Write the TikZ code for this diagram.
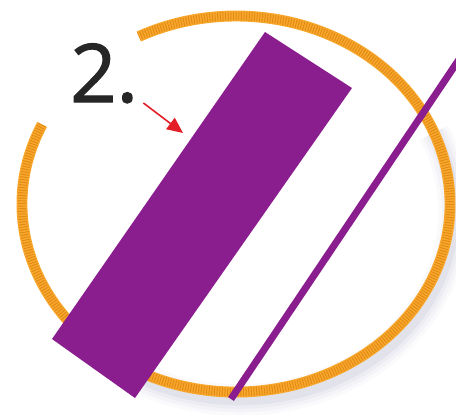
\documentclass[tikz,border=0pt]{standalone}
\usepackage{fontspec}
\setsansfont{Open Sans}
\newfontfamily\numfont{Open Sans}[FakeBold=1.4]
\usetikzlibrary{arrows.meta}

\begin{document}
\begin{tikzpicture}[x=0.02cm,y=-0.02cm,
    ring/.style={line width=6.2pt, draw=ringOrange},
    ringtex/.style={line width=5pt, draw=ringDark, dash pattern=on 0.55pt off 0.95pt},
    pointer/.style={draw=arrowRed, line width=0.9pt, -{Triangle[length=9pt,width=8pt]}}]
  \def\cx{236}
  \def\cy{204}
  \def\rx{214}
  \def\ry{188}
  \definecolor{ringOrange}{RGB}{248,168,44}
  \definecolor{ringDark}{RGB}{226,138,22}
  \definecolor{barPurple}{RGB}{138,30,142}
  \definecolor{arrowRed}{RGB}{228,30,38}
  \useasboundingbox (0,0) rectangle (456,414);
  \clip (0,0) rectangle (456,414);
  % soft shadow, bottom right
  \foreach \w/\o in {18/0.03,14/0.04,10/0.06,6/0.08} {
    \draw[line width=\w pt, gray!80!blue, opacity=\o]
      ([shift={(-25:\rx*1 and \ry*1)}]\cx+4,\cy+8) arc[start angle=-25, end angle=120, x radius=\rx, y radius=\ry];
  }
  % broken ring
  \draw[ring] ([shift={(-155:\rx*1 and \ry*1)}]\cx,\cy) arc[start angle=-155, end angle=-477, x radius=\rx, y radius=\ry];
  \draw[ringtex] ([shift={(-155:\rx*1 and \ry*1)}]\cx,\cy) arc[start angle=-155, end angle=-477, x radius=\rx, y radius=\ry];
  % bar and stroke
  \fill[barPurple] (265,32) -- (352,88) -- (135,398) -- (52,339) -- cycle;
  \draw[barPurple, line width=4pt] (231,399) -- (462,55);
  % label
  \node[anchor=base west, inner sep=0pt, text=black!85,
        font=\numfont\fontsize{46}{46}\selectfont] (num) at (70,102) {2.};
  \coordinate (tip) at (183,133);
  \draw[pointer] ([shift={(5,1)}]num.base east) -- (tip);
\end{tikzpicture}
\end{document}
